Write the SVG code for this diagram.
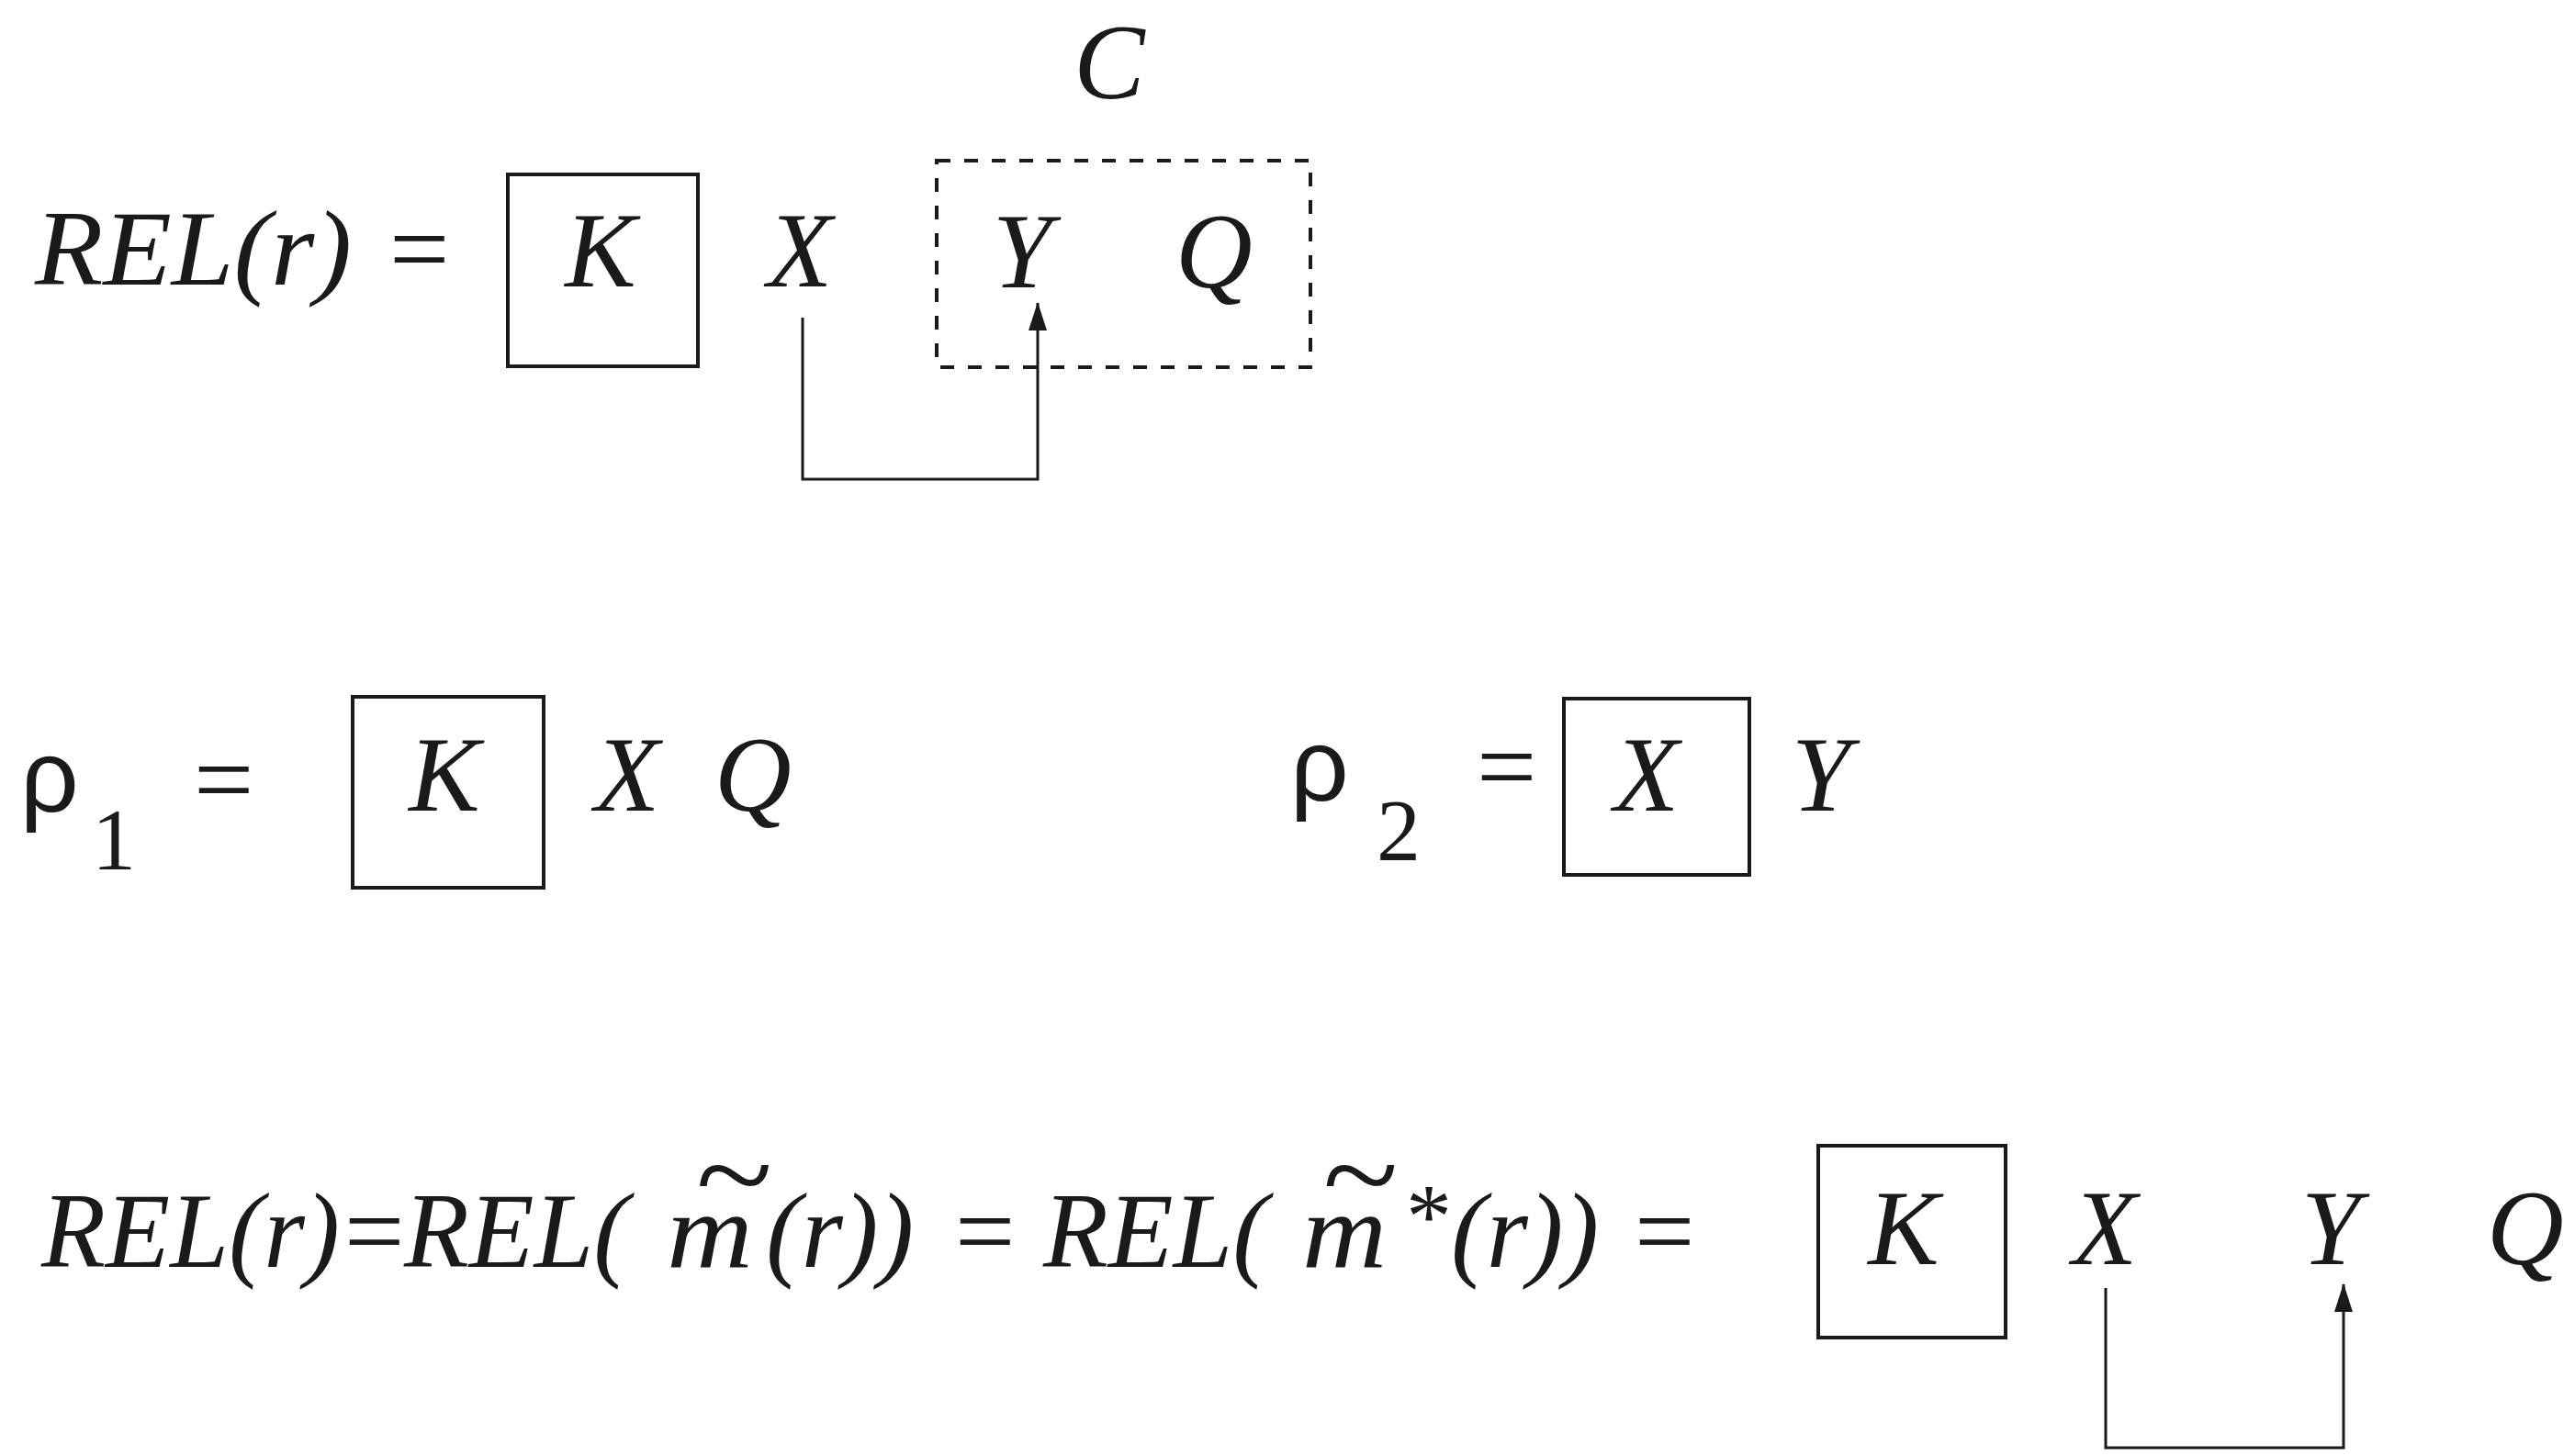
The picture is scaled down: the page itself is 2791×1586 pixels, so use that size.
<svg xmlns="http://www.w3.org/2000/svg" width="2791" height="1586" viewBox="0 0 2791 1586">
<style>
  .t { font-family: "Liberation Serif", "Times New Roman", serif; font-style: italic; font-size: 116px; fill: #1a1a1a; }
  .u { font-family: "Liberation Serif", "Times New Roman", serif; font-style: normal; font-size: 116px; fill: #1a1a1a; }
  .g { font-family: "Liberation Sans", Arial, sans-serif; font-style: normal; font-size: 112px; fill: #1a1a1a; }
  .sub { font-family: "Liberation Serif", "Times New Roman", serif; font-size: 96px; fill: #1a1a1a; }
  .tl { font-size: 138px; text-anchor: middle; }
  .c { text-anchor: middle; }
  .box { fill: none; stroke: #1a1a1a; stroke-width: 4; }
  .dash { fill: none; stroke: #1a1a1a; stroke-width: 4; stroke-dasharray: 15 15; }
  .conn { fill: none; stroke: #1a1a1a; stroke-width: 3; }
</style>
<defs>
  <marker id="arrow" markerUnits="userSpaceOnUse" markerWidth="32" markerHeight="22" refX="30" refY="11" orient="auto" viewBox="0 0 32 22">
    <path d="M0 1 L31 11 L0 21 Z" fill="#1a1a1a"/>
  </marker>
</defs>
<rect width="2791" height="1586" fill="#ffffff"/>

<!-- Row 1 -->
<g id="row1-label">
  <text class="t" x="38" y="310" textLength="345" lengthAdjust="spacingAndGlyphs">REL(r)</text>
  <text class="u" x="424" y="310">=</text>
</g>
<g id="r1-K">
  <rect class="box" x="553" y="190" width="207" height="209"/>
  <text class="t c" x="654" y="312">K</text>
</g>
<g id="r1-X">
  <text class="t c" x="871" y="312">X</text>
</g>
<g id="r1-C">
  <rect class="dash" x="1020" y="175" width="407" height="225"/>
  <text class="t c" x="1208" y="107">C</text>
  <text class="t c" x="1113" y="313">Y</text>
  <text class="t c" x="1322" y="313">Q</text>
</g>

<!-- Row 2 -->
<g id="rho1">
  <text class="g" x="22" y="884">ρ</text>
  <text class="sub" x="100" y="947">1</text>
  <text class="u" x="211" y="888">=</text>
</g>
<g id="r2-K">
  <rect class="box" x="384" y="759" width="208" height="208"/>
  <text class="t c" x="484" y="883">K</text>
</g>
<g id="r2-X"><text class="t c" x="683" y="883">X</text></g>
<g id="r2-Q"><text class="t c" x="820" y="883">Q</text></g>
<g id="rho2">
  <text class="g" x="1405" y="872">ρ</text>
  <text class="sub" x="1499" y="937">2</text>
  <text class="u" x="1608" y="874">=</text>
</g>
<g id="r2-Xbox">
  <rect class="box" x="1703" y="761" width="202" height="192"/>
  <text class="t c" x="1793" y="883">X</text>
</g>
<g id="r2-Y"><text class="t c" x="1983" y="883">Y</text></g>

<!-- Row 3 -->
<g id="row3-label">
  <text class="t" x="45" y="1380" textLength="325" lengthAdjust="spacingAndGlyphs">REL(r)</text>
  <text class="u" x="375" y="1380">=</text>
  <text class="t" x="440" y="1380">REL(</text>
  <text class="t" transform="translate(726 1380) scale(1.12 1)" x="0" y="0">m<tspan class="tl" x="64" y="-54">~</tspan></text>
  <text class="t" x="834" y="1380">(r))</text>
  <text class="u" x="1040" y="1380">=</text>
  <text class="t" x="1136" y="1380">REL(</text>
  <text class="t" transform="translate(1418 1380) scale(1.1 1)" x="0" y="0">m<tspan class="tl" x="56" y="-54">~</tspan></text>
  <text class="u" x="1531" y="1358" style="font-size:100px">*</text>
  <text class="t" x="1580" y="1380">(r))</text>
  <text class="u" x="1780" y="1380">=</text>
</g>
<g id="r3-K">
  <rect class="box" x="1980" y="1248" width="204" height="209"/>
  <text class="t c" x="2073" y="1377">K</text>
</g>
<g id="r3-X"><text class="t c" x="2292" y="1377">X</text></g>
<g id="r3-Y"><text class="t c" x="2538" y="1377">Y</text></g>
<g id="r3-Q"><text class="t c" x="2750" y="1377">Q</text></g>

<!-- Connectors -->
<g id="connectors">
  <polyline class="conn" points="874,346 874,522 1130,522 1130,330" marker-end="url(#arrow)"/>
  <polyline class="conn" points="2293,1403 2293,1577 2552,1577 2552,1399" marker-end="url(#arrow)"/>
</g>
</svg>
